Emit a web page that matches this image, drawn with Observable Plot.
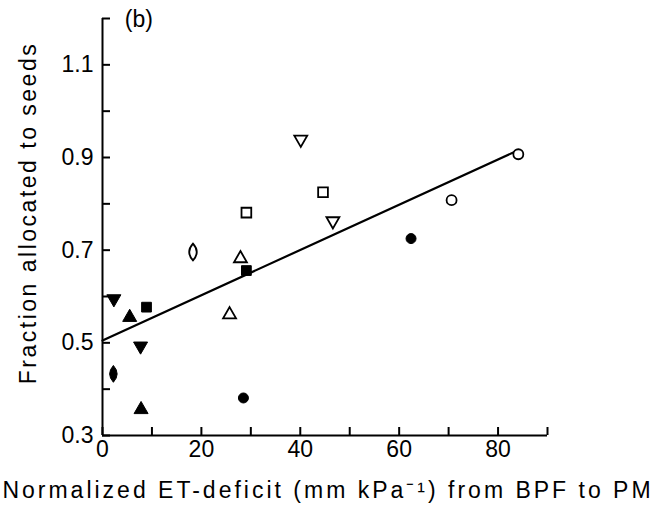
<!DOCTYPE html>
<html><head><meta charset="utf-8">
<script src="https://cdn.jsdelivr.net/npm/d3@7"></script>
<script src="https://cdn.jsdelivr.net/npm/@observablehq/plot@0.6"></script>
<style>body{margin:0;background:#fff} svg{font-family:"Liberation Sans",Arial,sans-serif}</style>
</head><body><div id="chart"></div>
<script>
// ---- data ----
const seriesNames = ["openCircle","filledCircle","openSquare","filledSquare","openTriUp","filledTriUp","openTriDown","filledTriDown","openLens","filledLens"];
const seriesX = [[70.6,84.1],[28.5,62.4],[29.1,44.6],[8.9,29.1],[25.7,27.9],[5.5,7.8],[40.1,46.6],[2.3,7.7],[18.3],[2.2]];
const seriesY = [[0.808,0.907],[0.381,0.725],[0.781,0.825],[0.577,0.656],[0.561,0.682],[0.555,0.356],[0.939,0.763],[0.595,0.493],[0.696],[0.433]];
const fitX = [0, 83.3];
const fitY = [0.505, 0.912];
const xTickLabels = [0, 20, 40, 60, 80];
const xTickMarks = [0,10,20,30,40,50,60,70,80,90];
const yTickLabels = [0.3, 0.5, 0.7, 0.9, 1.1];
const yTickMarks = [0.3,0.4,0.5,0.6,0.7,0.8,0.9,1.0,1.1,1.2];
const panelLabel = ["(b)"];
const panelLabelPos = [4.5, 1.197];
const xTitle = "Normalized ET-deficit (mm kPa⁻¹) from BPF to PM";
const yTitle = "Fraction allocated to seeds";

// ---- styling ----
const FONT = "Liberation Sans";
const lens = {draw(ctx, size){const s=Math.sqrt(size);const h=s*0.95,w=s*0.85;ctx.moveTo(0,-h);ctx.quadraticCurveTo(w,0,0,h);ctx.quadraticCurveTo(-w,0,0,-h);ctx.closePath();}};
const styleOf = {
  openCircle:{symbol:"circle",filled:false,r:5},
  filledCircle:{symbol:"circle",filled:true,r:5},
  openSquare:{symbol:"square",filled:false,r:5.5},
  filledSquare:{symbol:"square",filled:true,r:5.5},
  openTriUp:{symbol:"triangle",filled:false,r:4.8},
  filledTriUp:{symbol:"triangle",filled:true,r:5.2},
  openTriDown:{symbol:"triangle",filled:false,r:4.8,rotate:180},
  filledTriDown:{symbol:"triangle",filled:true,r:5.2,rotate:180},
  openLens:{symbol:lens,filled:false,r:5},
  filledLens:{symbol:lens,filled:true,r:5}
};

const dotMarks = seriesNames.map((name,i)=>{
  const rows = seriesX[i].map((x,j)=>({x, y: seriesY[i][j]}));
  const st = styleOf[name];
  return Plot.dot(rows, {x:"x", y:"y", symbol: ()=>st.symbol, r: st.r, rotate: st.rotate||0,
    fill: st.filled ? "black" : "white", stroke: "black", strokeWidth: st.filled ? 1 : 1.8});
});

const chart = Plot.plot({
  width: 655, height: 508,
  marginLeft: 102, marginRight: 108, marginTop: 18, marginBottom: 73,
  style: {fontFamily: FONT, background: "white", color: "black"},
  symbol: {type: "identity"},
  x: {domain: [0, 90]},
  y: {domain: [0.3, 1.2]},
  marks: [
    Plot.axisY({ticks: yTickLabels, tickSize: 0, tickPadding: 9, tickFormat: d3.format(".1f"), fontSize: 23, label: null}),
    Plot.axisY({ticks: yTickMarks, tickSize: -8, tickFormat: () => "", strokeWidth: 2, label: null}),
    Plot.axisX({ticks: xTickLabels, tickSize: 0, tickPadding: 5, tickFormat: d3.format("d"), fontSize: 23, label: null}),
    Plot.axisX({ticks: xTickMarks, tickSize: -8, tickFormat: () => "", strokeWidth: 2, label: null}),
    Plot.ruleX([0], {strokeWidth: 2}),
    Plot.ruleY([0.3], {strokeWidth: 2}),
    Plot.line(fitX.map((x,i)=>({x, y: fitY[i]})), {x:"x", y:"y", strokeWidth: 2.2}),
    ...dotMarks,
    Plot.text(panelLabel, {x: () => panelLabelPos[0], y: () => panelLabelPos[1], text: d => d, textAnchor: "start", fontSize: 23, lineAnchor: "middle"}),
    Plot.text([yTitle], {frameAnchor: "left", dx: -74, dy: -14, rotate: -90, textAnchor: "middle", lineAnchor: "middle", text: d => d, fontSize: 23}),
    Plot.text([xTitle], {frameAnchor: "bottom", dx: 3, dy: 55, textAnchor: "middle", lineAnchor: "middle", text: d => d, fontSize: 23})
  ]
});
document.getElementById("chart").appendChild(chart);
const texts = d3.select(chart).selectAll("text");
texts.filter(function(){ return this.textContent === yTitle; }).attr("letter-spacing", "2.5").style("letter-spacing", "2.5px");
texts.filter(function(){ return this.textContent === xTitle; }).attr("letter-spacing", "3").style("letter-spacing", "3px");
</script>
</body></html>
